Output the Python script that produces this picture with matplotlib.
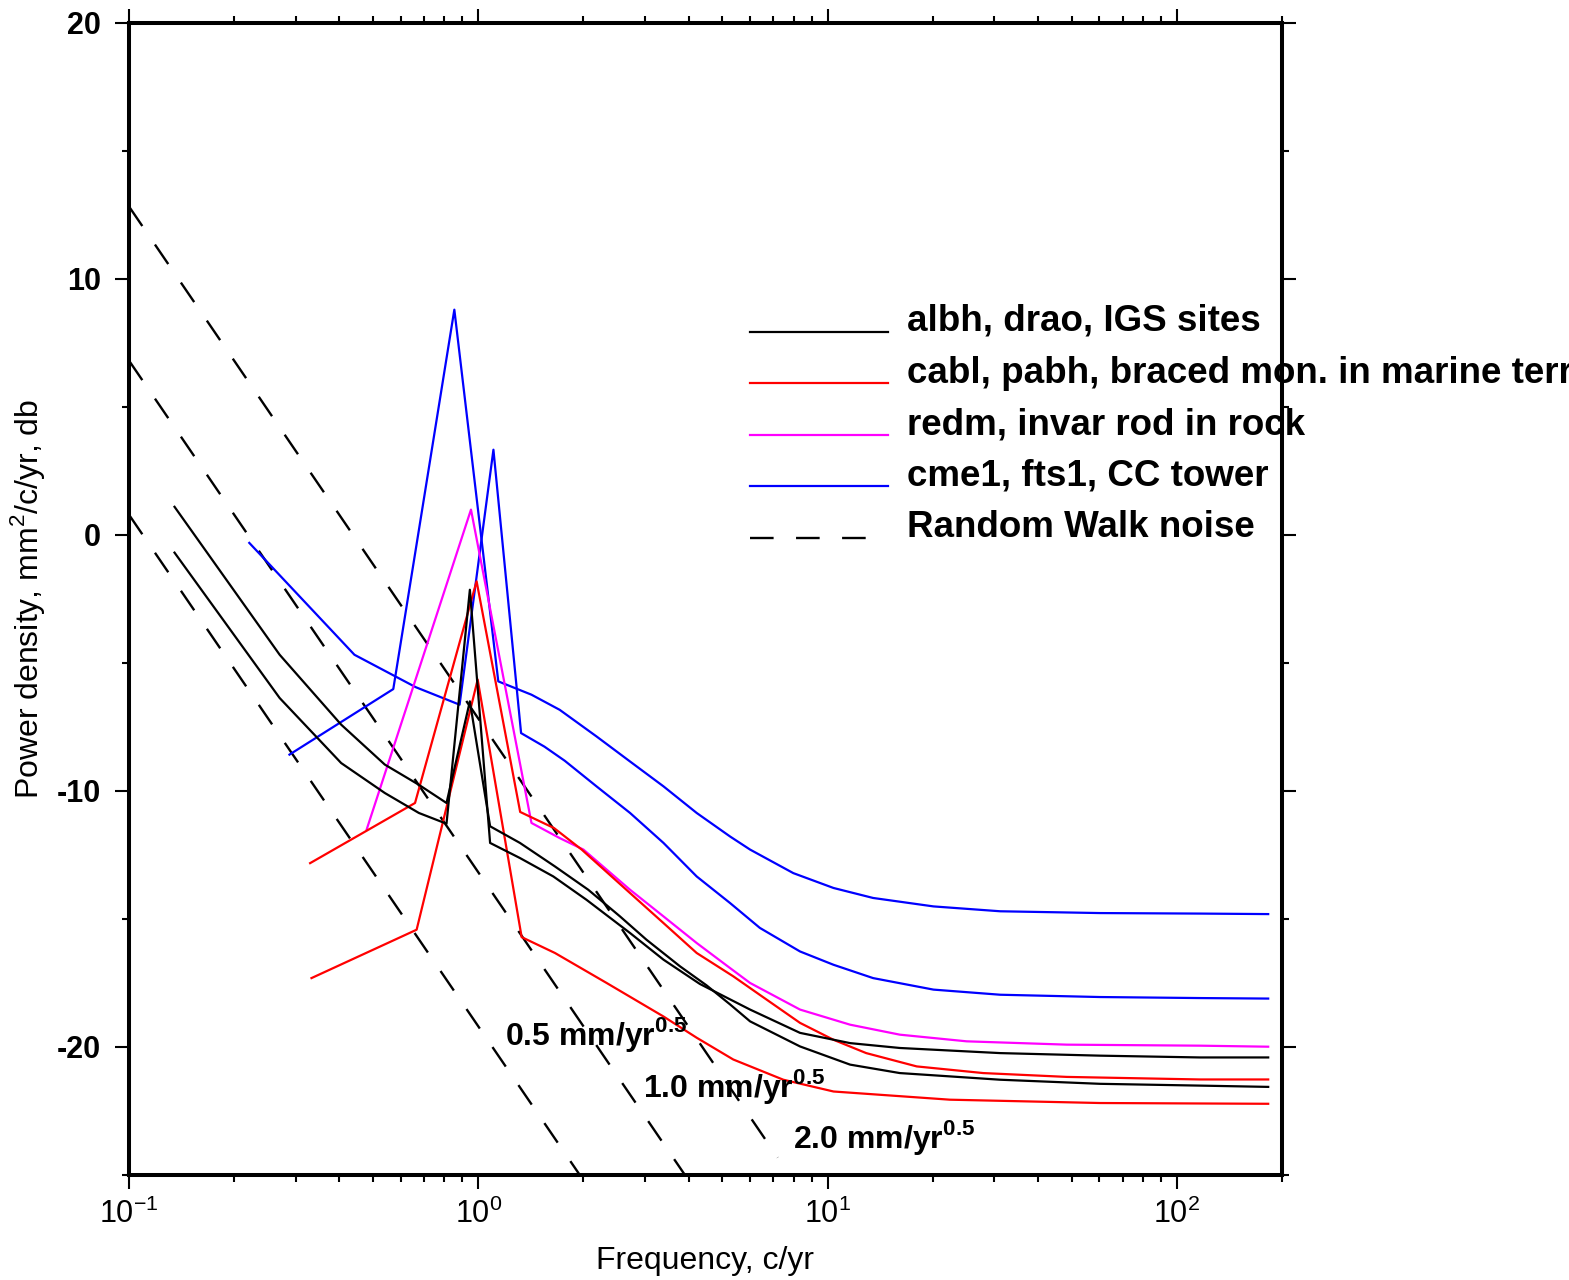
import matplotlib
matplotlib.use('Agg')
from matplotlib import pyplot as plt
from matplotlib.legend_handler import HandlerLine2D
import matplotlib.ticker as ticker

plt.rcParams['font.family'] = ['Liberation Sans', 'DejaVu Sans']
plt.rcParams['mathtext.fontset'] = 'custom'
plt.rcParams['mathtext.rm'] = 'Liberation Sans'
plt.rcParams['mathtext.bf'] = 'Liberation Sans:bold'
plt.rcParams['axes.unicode_minus'] = False

# black: albh, drao (IGS sites)
freq_black1 = [0.135, 0.270, 0.405, 0.540, 0.676, 0.811, 0.946, 1.081, 1.316,
               1.658, 2.065, 2.545, 3.03, 3.78, 4.5, 5.26, 6.0, 8.34, 11.6,
               16.1, 31.2, 60.3, 116.5, 182.6]
psd_black1 = [1.09, -4.69, -7.42, -8.98, -9.77, -10.48, -6.51, -11.39, -12.04,
              -12.96, -13.87, -14.91, -15.82, -16.86, -17.6, -18.35, -19.01,
              -19.99, -20.70, -21.03, -21.29, -21.45, -21.52, -21.57]
freq_black2 = [0.135, 0.270, 0.405, 0.540, 0.676, 0.811, 0.946, 1.081, 1.316,
               1.64, 2.04, 2.72, 3.39, 4.31, 6.0, 8.34, 11.6, 16.1, 31.2,
               60.3, 116.5, 182.6]
psd_black2 = [-0.70, -6.38, -8.92, -10.09, -10.87, -11.29, -2.15, -12.04,
              -12.63, -13.35, -14.26, -15.56, -16.60, -17.55, -18.55, -19.46,
              -19.86, -20.05, -20.25, -20.35, -20.42, -20.42]

# red: cabl, pabh
freq_red1 = [0.330, 0.659, 0.989, 1.318, 1.648, 1.977, 2.72, 3.39, 4.22, 5.37,
             6.69, 8.34, 10.4, 12.9, 18.0, 27.9, 48.4, 116.5, 182.6]
psd_red1 = [-12.83, -10.48, -1.82, -10.83, -11.46, -12.30, -14.0, -15.17,
            -16.34, -17.25, -18.16, -19.07, -19.73, -20.25, -20.77, -21.03,
            -21.18, -21.28, -21.28]
freq_red2 = [0.333, 0.666, 0.996, 1.331, 1.658, 2.33, 3.39, 4.22, 5.37, 7.47,
             10.4, 22.4, 60.3, 182.6]
psd_red2 = [-17.32, -15.43, -5.66, -15.72, -16.34, -17.51, -18.82, -19.65,
            -20.5, -21.29, -21.75, -22.07, -22.2, -22.23]

# magenta: redm
freq_mag = [0.479, 0.953, 1.42, 1.71, 2.0, 2.72, 3.39, 4.22, 5.26, 6.0, 8.34,
            11.6, 16.1, 25.0, 48.4, 116.5, 182.6]
psd_mag = [-11.52, 0.98, -11.26, -11.85, -12.30, -13.87, -14.91, -15.95,
           -16.93, -17.51, -18.55, -19.14, -19.53, -19.79, -19.92, -19.96, -20.0]

# blue: cme1, fts1
freq_blue1 = [0.221, 0.442, 0.663, 0.884, 1.105, 1.326, 1.547, 1.768, 2.18,
              2.72, 3.39, 4.22, 5.26, 6.40, 8.34, 10.4, 13.5, 20.1, 31.2,
              60.3, 116.5, 182.6]
psd_blue1 = [-0.32, -4.69, -5.96, -6.64, 3.32, -7.75, -8.28, -8.83, -9.83,
             -10.87, -12.04, -13.35, -14.39, -15.36, -16.28, -16.80, -17.32,
             -17.77, -17.97, -18.06, -18.10, -18.12]
freq_blue2 = [0.288, 0.571, 0.854, 1.141, 1.42, 1.71, 2.18, 2.72, 3.39, 4.22,
              5.26, 6.0, 7.98, 10.4, 13.5, 20.1, 31.2, 60.3, 116.5, 182.6]
psd_blue2 = [-8.59, -6.03, 8.79, -5.73, -6.25, -6.84, -7.88, -8.86, -9.83,
             -10.87, -11.79, -12.30, -13.22, -13.80, -14.19, -14.52, -14.71,
             -14.78, -14.80, -14.82]

# random walk reference lines (end points)
rw_labels = ['0.5', '1.0', '2.0']
rw_freq = [[0.1, 1.95], [0.1, 3.9], [0.1, 7.2]]
rw_psd = [[0.78, -25.0], [6.80, -25.0], [12.82, -24.33]]
rw_label_pos = [(1.193, -19.92), (2.96, -21.95), (7.96, -23.95)]

ytick_vals = [20, 10, 0, -10, -20]
ytick_labels = ['20', '10', '0', '-10', '-20']


class BaselineLine(HandlerLine2D):
    # legend line sits on the text baseline, like in GMT
    def create_artists(self, legend, orig_handle, xdescent, ydescent,
                       width, height, fontsize, trans):
        arts = super().create_artists(legend, orig_handle, xdescent, ydescent,
                                      width, height, fontsize, trans)
        for a in arts:
            a.set_ydata([y - 0.37 * fontsize for y in a.get_ydata()])
        return arts


fig = plt.figure(figsize=(15.69, 12.80), dpi=100)
ax = fig.add_axes([129 / 1569, 1 - 1174.7 / 1280, 1153 / 1569, 1152 / 1280])

lw = 1.6
for f, p in zip(rw_freq, rw_psd):
    ax.plot(f, p, color='k', lw=1.7, dashes=(10, 9.5))
ax.plot(freq_blue1, psd_blue1, color='#0000ff', lw=lw)
hb, = ax.plot(freq_blue2, psd_blue2, color='#0000ff', lw=lw)
hm, = ax.plot(freq_mag, psd_mag, color='#ff00ff', lw=lw)
ax.plot(freq_red2, psd_red2, color='#ff0000', lw=lw)
hr, = ax.plot(freq_red1, psd_red1, color='#ff0000', lw=lw)
ax.plot(freq_black2, psd_black2, color='k', lw=lw)
hk, = ax.plot(freq_black1, psd_black1, color='k', lw=lw)
hd, = ax.plot([], [], color='k', lw=1.7, dashes=(10, 9.5))

for lab, (x, y) in zip(rw_labels, rw_label_pos):
    ax.text(x, y, lab + r' mm/yr$^{\mathdefault{0.5}}$', fontsize=23,
            fontweight='bold', ha='left', va='baseline')

ax.set_xscale('log')
ax.set_xlim(0.1, 200)
ax.set_ylim(-25, 20)
ax.set_yticks(ytick_vals)
ax.set_yticklabels(ytick_labels, fontweight='bold', fontsize=22)
ax.yaxis.set_minor_locator(ticker.MultipleLocator(5))
ax.xaxis.set_minor_formatter(ticker.NullFormatter())
ax.tick_params(axis='x', which='major', labelsize=22, pad=7)
ax.tick_params(axis='y', which='major', pad=10)
ax.tick_params(which='major', direction='out', length=10, width=1.5,
               top=True, right=True)
ax.tick_params(which='minor', direction='out', length=5, width=1.5,
               top=True, right=True)
for s in ax.spines.values():
    s.set_linewidth(2.9)

ax.set_xlabel('Frequency, c/yr', fontsize=23)
ax.set_ylabel(r'Power density, mm$^{\mathdefault{2}}$/c/yr, db', fontsize=23)
ax.xaxis.set_label_coords(0.5, -0.062)
ax.yaxis.set_label_coords(-0.0711, 0.5)

leg = ax.legend([hk, hr, hm, hb, hd],
                ['albh, drao, IGS sites',
                 'cabl, pabh, braced mon. in marine terrace',
                 'redm, invar rod in rock',
                 'cme1, fts1, CC tower',
                 'Random Walk noise'],
                loc='upper left', bbox_to_anchor=(750 / 1569, 1 - 304 / 1280),
                bbox_transform=fig.transFigure, frameon=False,
                prop={'size': 26.5, 'weight': 'bold'},
                handlelength=3.75, handletextpad=0.52, labelspacing=0.45,
                borderpad=0, borderaxespad=0,
                handler_map={matplotlib.lines.Line2D: BaselineLine()})

fig.savefig('out.png', dpi=100)
